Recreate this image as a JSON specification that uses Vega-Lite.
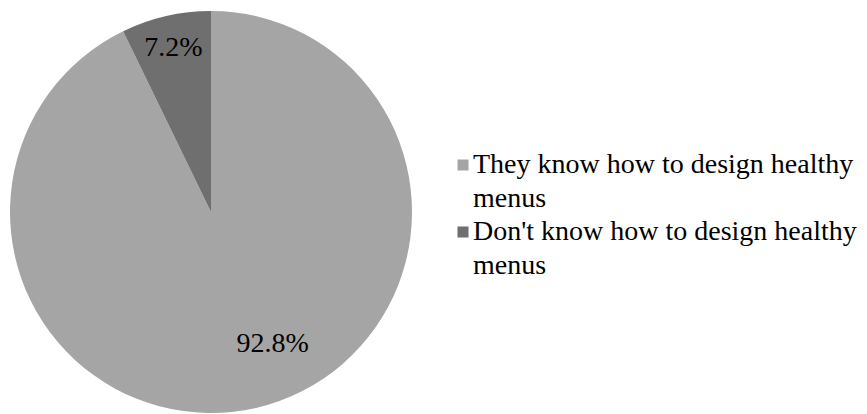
{
  "$schema": "https://vega.github.io/schema/vega-lite/v6.json",
  "width": 422,
  "height": 402,
  "padding": {"top": 11, "left": 0, "right": 445, "bottom": 1},
  "autosize": {"type": "none"},
  "background": "white",
  "config": {
    "view": {"stroke": null},
    "font": "Liberation Serif",
    "style": {"guide-label": {"lineHeight": 34}}
  },
  "data": {
    "values": [
      {"group": "They know how to design healthy menus", "pct": 92.8, "label": "92.8%", "order": 1},
      {"group": "Don't know how to design healthy menus", "pct": 7.2, "label": "7.2%", "order": 2}
    ]
  },
  "encoding": {
    "theta": {"field": "pct", "type": "quantitative", "stack": true},
    "order": {"field": "order", "type": "quantitative"}
  },
  "layer": [
    {
      "mark": {"type": "arc", "outerRadius": 201},
      "encoding": {
        "color": {
          "field": "group",
          "type": "nominal",
          "sort": ["They know how to design healthy menus", "Don't know how to design healthy menus"],
          "scale": {"domain": ["They know how to design healthy menus", "Don't know how to design healthy menus"], "range": ["#a5a5a5", "#6f6f6f"]},
          "legend": {
            "title": null,
            "orient": "none",
            "legendX": 449,
            "legendY": 140,
            "padding": 0,
            "symbolType": "square",
            "symbolSize": 121,
            "symbolStrokeWidth": 0,
            "labelFont": "Liberation Serif",
            "labelFontSize": 28,
            "labelColor": "#000000",
            "labelLimit": 500,
            "labelExpr": "datum.label == 'They know how to design healthy menus' ? ['They know how to design healthy', 'menus'] : ['Don\\'t know how to design healthy', 'menus']",
            "labelOffset": -4,
            "rowPadding": 5
          }
        }
      }
    },
    {
      "mark": {"type": "text", "radius": 168, "font": "Liberation Serif", "fontSize": 28, "color": "#000000"},
      "encoding": {
        "text": {"condition": {"test": "datum.order == 2", "field": "label"}, "value": ""}
      }
    },
    {
      "mark": {"type": "text", "radius": 146, "thetaOffset": -0.21, "font": "Liberation Serif", "fontSize": 28, "color": "#000000"},
      "encoding": {
        "text": {"condition": {"test": "datum.order == 1", "field": "label"}, "value": ""}
      }
    }
  ]
}
